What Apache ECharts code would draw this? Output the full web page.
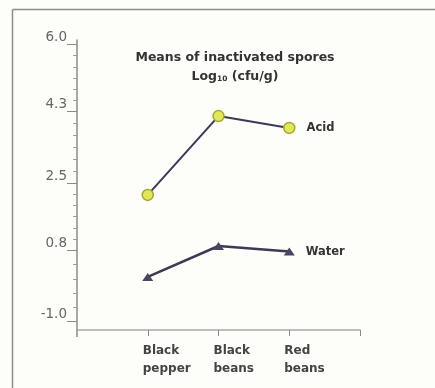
<!DOCTYPE html>
<html>
<head>
<meta charset="utf-8">
<script src="https://cdn.jsdelivr.net/npm/echarts@6/dist/echarts.min.js"></script>
<style>
  html, body { margin: 0; padding: 0; background: #fdfdf9; }
  #chart { width: 435px; height: 388px; }
</style>
</head>
<body>
<div id="chart"></div>
<script>
    // categories (blank ends give the axis its outer ticks)
    var categories = ['', 'Black\npepper', 'Black\nbeans', 'Red\nbeans', ''];
    var acid = [null, 2.20, 4.19, 3.89, null];
    var water = [null, 0.13, 0.91, 0.77, null];
    var yTickLabels = [6.0, 4.3, 2.5, 0.8, -1.0];

    var boldFont = 'DejaVu Sans, Verdana, sans-serif';

    // minor ticks: even splits between the labelled ticks
    var minorTicks = [];
    for (var i = 0; i < yTickLabels.length - 1; i++) {
        var a = yTickLabels[i], b = yTickLabels[i + 1];
        var n = (i === yTickLabels.length - 2) ? 5 : 6;
        for (var k = 1; k < n; k++) {
            minorTicks.push(a + (b - a) * k / n);
        }
    }

    function withEndLabel(arr, name) {
        var last = 0;
        arr.forEach(function (v, idx) { if (v !== null) last = idx; });
        return arr.map(function (v, idx) {
            if (idx !== last) return v;
            return {
                value: v,
                label: {
                    show: true, position: 'right', distance: 11,
                    formatter: name,
                    color: '#333', fontWeight: 'bold', fontSize: 11.5,
                    fontFamily: boldFont
                }
            };
        });
    }

    var chart = echarts.init(document.getElementById('chart'));

    var option = {
        backgroundColor: '#fdfdf9',
        animation: false,
        title: {
            text: 'Means of inactivated spores\nLog{sub|10} (cfu/g)',
            left: 230,
            top: 43,
            textAlign: 'center',
            textStyle: {
                fontSize: 12.5,
                fontWeight: 'bold',
                color: '#333',
                lineHeight: 19,
                fontFamily: boldFont,
                rich: {
                    sub: { fontSize: 7.5, fontWeight: 'bold', color: '#333', fontFamily: boldFont, padding: [5, 0, 0, 0] }
                }
            }
        },
        grid: { left: 77, right: 75, top: 40, bottom: 58 },
        xAxis: {
            type: 'category',
            data: categories,
            boundaryGap: false,
            axisLine: { onZero: false, lineStyle: { color: '#a8a8a8', width: 1.5 } },
            axisTick: { show: true, alignWithLabel: true, length: 6, lineStyle: { color: '#8a8a8a' },
                interval: function (idx) { return idx > 0; } },
            axisLabel: {
                interval: 0,
                align: 'left',
                margin: 12,
                padding: [0, 0, 0, -5],
                color: '#444',
                fontWeight: 'bold',
                fontSize: 12,
                lineHeight: 18,
                fontFamily: boldFont
            },
            splitLine: { show: false }
        },
        yAxis: [{
            type: 'value',
            min: -1.21,
            max: 6.11,
            axisLine: { show: true, lineStyle: { color: '#8a8a8a', width: 1.5 } },
            axisTick: { show: true, length: 10, customValues: yTickLabels, lineStyle: { color: '#8a8a8a' } },
            axisLabel: {
                customValues: yTickLabels,
                margin: 10,
                verticalAlign: 'bottom',
                color: '#666',
                fontSize: 13.5,
                fontFamily: 'DejaVu Sans, sans-serif',
                formatter: function (v) { return v.toFixed(1); }
            },
            splitLine: { show: false }
        }, {
            type: 'value',
            position: 'left',
            min: -1.21,
            max: 6.11,
            axisLine: { show: false },
            axisTick: { show: true, length: 4, customValues: minorTicks, lineStyle: { color: '#9a9a9a' } },
            axisLabel: { show: false },
            splitLine: { show: false }
        }],
        series: [{
            name: 'Acid',
            type: 'line',
            data: withEndLabel(acid, 'Acid'),
            symbol: 'circle',
            symbolSize: 11,
            lineStyle: { color: '#3a3a58', width: 2 },
            itemStyle: { color: '#e4e65a', borderColor: '#a4a82a', borderWidth: 1.5 }
        }, {
            name: 'Water',
            type: 'line',
            data: withEndLabel(water, 'Water'),
            symbol: 'triangle',
            symbolSize: [11, 8],
            lineStyle: { color: '#3d3a55', width: 2.5 },
            itemStyle: { color: '#4a4560' }
        }],
        graphic: [{
            type: 'line',
            shape: { x1: 12.5, y1: 9.5, x2: 435, y2: 9.5 },
            style: { stroke: '#8c8c8c', lineWidth: 1.5 }
        }, {
            type: 'line',
            shape: { x1: 12.5, y1: 9.5, x2: 12.5, y2: 388 },
            style: { stroke: '#8c8c8c', lineWidth: 1.5 }
        }, {
            type: 'line',
            shape: { x1: 77, y1: 330, x2: 77, y2: 337 },
            style: { stroke: '#8a8a8a', lineWidth: 1.5 }
        }]
    };

    chart.setOption(option);
</script>
</body>
</html>
